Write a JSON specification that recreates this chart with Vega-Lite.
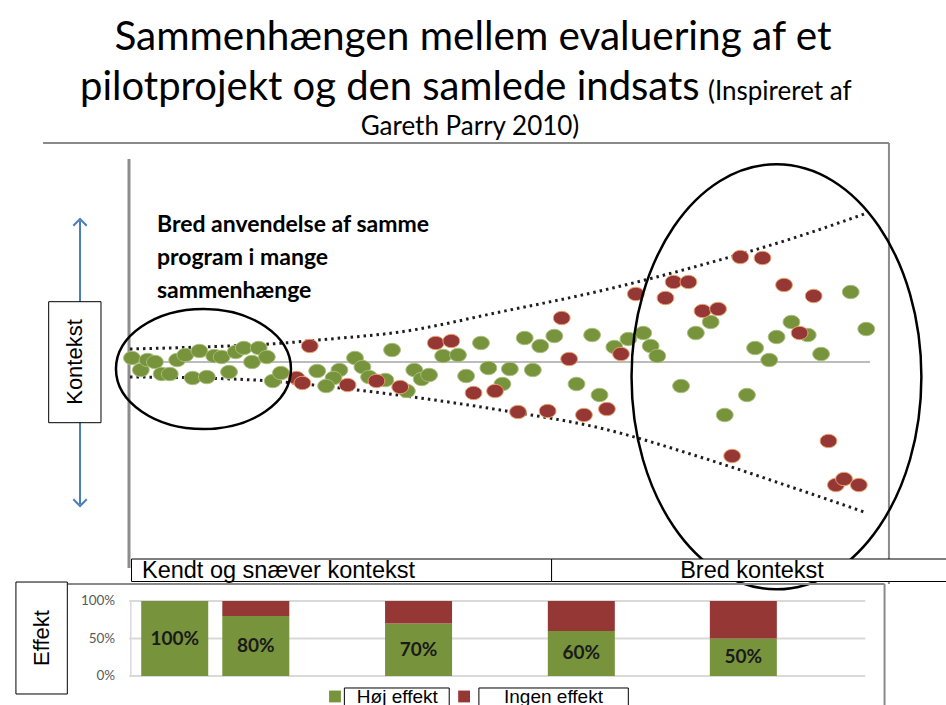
{
  "$schema": "https://vega.github.io/schema/vega-lite/v6.json",
  "padding": 0,
  "background": "white",
  "spacing": 0,
  "bounds": "flush",
  "config": {"view": {"stroke": null}},
  "datasets": {
    "frameTop": [
      {"x": -11.6, "y": 10.95, "x2": 102.56, "y2": 10.95},
      {"x": 102.56, "y": 10.95, "x2": 102.56, "y2": -11.1}
    ],
    "axisLine": [{"x": 0, "y": 10.15, "x2": 0, "y2": -10.3}],
    "baseLine": [{"x": 0.1, "y": 0, "x2": 100, "y2": 0}],
    "arrowLine": [{"x": -6.61, "y": 7.05, "x2": -6.61, "y2": -7.1}],
    "arrowUp": [{"x": -6.61, "y": 7.15}],
    "arrowDown": [{"x": -6.61, "y": -7.2}],
    "curves": [
      {"edge": "upper", "x": 0.13, "y": 0.65}, {"edge": "upper", "x": 9.58, "y": 0.75}, {"edge": "upper", "x": 19.03, "y": 0.9},
      {"edge": "upper", "x": 27.13, "y": 1.15}, {"edge": "upper", "x": 36.57, "y": 1.5}, {"edge": "upper", "x": 50.07, "y": 2.5},
      {"edge": "upper", "x": 63.56, "y": 3.55}, {"edge": "upper", "x": 77.06, "y": 4.83}, {"edge": "upper", "x": 90.55, "y": 6.3},
      {"edge": "upper", "x": 99.6, "y": 7.45},
      {"edge": "lower", "x": 0.13, "y": -0.75}, {"edge": "lower", "x": 9.58, "y": -0.8}, {"edge": "lower", "x": 19.03, "y": -0.95},
      {"edge": "lower", "x": 28.48, "y": -1.3}, {"edge": "lower", "x": 39.27, "y": -1.8}, {"edge": "lower", "x": 50.07, "y": -2.4},
      {"edge": "lower", "x": 63.56, "y": -3.3}, {"edge": "lower", "x": 77.06, "y": -4.75}, {"edge": "lower", "x": 90.55, "y": -6.4},
      {"edge": "lower", "x": 99.6, "y": -7.55}
    ],
    "points": [
      {"x": 0.4, "y": 0.2, "effekt": "Høj effekt"}, {"x": 1.6, "y": -0.4, "effekt": "Høj effekt"}, {"x": 2.5, "y": 0.1, "effekt": "Høj effekt"},
      {"x": 3.5, "y": 0.0, "effekt": "Høj effekt"}, {"x": 4.4, "y": -0.6, "effekt": "Høj effekt"}, {"x": 5.5, "y": -0.6, "effekt": "Høj effekt"},
      {"x": 6.5, "y": 0.1, "effekt": "Høj effekt"}, {"x": 7.6, "y": 0.35, "effekt": "Høj effekt"}, {"x": 8.6, "y": -0.8, "effekt": "Høj effekt"},
      {"x": 9.5, "y": 0.55, "effekt": "Høj effekt"}, {"x": 10.5, "y": -0.75, "effekt": "Høj effekt"}, {"x": 11.5, "y": 0.3, "effekt": "Høj effekt"},
      {"x": 12.5, "y": 0.25, "effekt": "Høj effekt"}, {"x": 13.5, "y": -0.5, "effekt": "Høj effekt"}, {"x": 14.4, "y": 0.5, "effekt": "Høj effekt"},
      {"x": 15.5, "y": 0.7, "effekt": "Høj effekt"}, {"x": 16.6, "y": 0.0, "effekt": "Høj effekt"}, {"x": 17.5, "y": 0.7, "effekt": "Høj effekt"},
      {"x": 18.6, "y": 0.25, "effekt": "Høj effekt"}, {"x": 19.4, "y": -0.95, "effekt": "Høj effekt"}, {"x": 20.5, "y": -0.55, "effekt": "Høj effekt"},
      {"x": 25.4, "y": -0.45, "effekt": "Høj effekt"}, {"x": 28.4, "y": -0.4, "effekt": "Høj effekt"}, {"x": 27.6, "y": -0.8, "effekt": "Høj effekt"},
      {"x": 26.6, "y": -1.2, "effekt": "Høj effekt"}, {"x": 30.5, "y": 0.2, "effekt": "Høj effekt"}, {"x": 31.5, "y": -0.25, "effekt": "Høj effekt"},
      {"x": 35.5, "y": 0.6, "effekt": "Høj effekt"}, {"x": 32.4, "y": -0.75, "effekt": "Høj effekt"}, {"x": 34.6, "y": -0.9, "effekt": "Høj effekt"},
      {"x": 37.5, "y": -1.45, "effekt": "Høj effekt"}, {"x": 38.5, "y": -0.4, "effekt": "Høj effekt"}, {"x": 39.5, "y": -0.85, "effekt": "Høj effekt"},
      {"x": 40.5, "y": -0.65, "effekt": "Høj effekt"}, {"x": 42.4, "y": 0.3, "effekt": "Høj effekt"}, {"x": 44.4, "y": 0.35, "effekt": "Høj effekt"},
      {"x": 47.5, "y": 0.95, "effekt": "Høj effekt"}, {"x": 45.5, "y": -0.7, "effekt": "Høj effekt"}, {"x": 50.4, "y": -1.1, "effekt": "Høj effekt"},
      {"x": 48.5, "y": -0.3, "effekt": "Høj effekt"}, {"x": 51.4, "y": -0.35, "effekt": "Høj effekt"}, {"x": 53.4, "y": 1.2, "effekt": "Høj effekt"},
      {"x": 55.5, "y": 0.8, "effekt": "Høj effekt"}, {"x": 57.4, "y": 1.3, "effekt": "Høj effekt"}, {"x": 54.5, "y": -0.4, "effekt": "Høj effekt"},
      {"x": 60.4, "y": -1.1, "effekt": "Høj effekt"}, {"x": 63.5, "y": -1.65, "effekt": "Høj effekt"}, {"x": 62.5, "y": 1.35, "effekt": "Høj effekt"},
      {"x": 65.5, "y": 0.75, "effekt": "Høj effekt"}, {"x": 67.4, "y": 1.15, "effekt": "Høj effekt"}, {"x": 69.4, "y": 1.45, "effekt": "Høj effekt"},
      {"x": 70.4, "y": 0.8, "effekt": "Høj effekt"}, {"x": 71.3, "y": 0.3, "effekt": "Høj effekt"}, {"x": 78.5, "y": 2.0, "effekt": "Høj effekt"},
      {"x": 76.5, "y": 1.45, "effekt": "Høj effekt"}, {"x": 74.5, "y": -1.2, "effekt": "Høj effekt"}, {"x": 80.4, "y": -2.65, "effekt": "Høj effekt"},
      {"x": 83.4, "y": -1.65, "effekt": "Høj effekt"}, {"x": 97.4, "y": 3.5, "effekt": "Høj effekt"}, {"x": 99.5, "y": 1.65, "effekt": "Høj effekt"},
      {"x": 84.5, "y": 0.7, "effekt": "Høj effekt"}, {"x": 86.4, "y": 0.1, "effekt": "Høj effekt"}, {"x": 87.4, "y": 1.25, "effekt": "Høj effekt"},
      {"x": 89.4, "y": 2.0, "effekt": "Høj effekt"}, {"x": 91.6, "y": 1.35, "effekt": "Høj effekt"}, {"x": 93.4, "y": 0.4, "effekt": "Høj effekt"},
      {"x": 24.4, "y": 0.8, "effekt": "Ingen effekt"}, {"x": 22.6, "y": -0.8, "effekt": "Ingen effekt"}, {"x": 23.4, "y": -1.05, "effekt": "Ingen effekt"},
      {"x": 29.5, "y": -1.15, "effekt": "Ingen effekt"}, {"x": 33.4, "y": -0.95, "effekt": "Ingen effekt"}, {"x": 36.6, "y": -1.25, "effekt": "Ingen effekt"},
      {"x": 41.4, "y": 0.95, "effekt": "Ingen effekt"}, {"x": 43.5, "y": 1.05, "effekt": "Ingen effekt"}, {"x": 46.5, "y": -1.55, "effekt": "Ingen effekt"},
      {"x": 49.4, "y": -1.45, "effekt": "Ingen effekt"}, {"x": 58.4, "y": 2.2, "effekt": "Ingen effekt"}, {"x": 59.4, "y": 0.15, "effekt": "Ingen effekt"},
      {"x": 52.5, "y": -2.5, "effekt": "Ingen effekt"}, {"x": 56.5, "y": -2.45, "effekt": "Ingen effekt"}, {"x": 61.4, "y": -2.65, "effekt": "Ingen effekt"},
      {"x": 64.5, "y": -2.35, "effekt": "Ingen effekt"}, {"x": 66.4, "y": 0.4, "effekt": "Ingen effekt"}, {"x": 68.4, "y": 3.4, "effekt": "Ingen effekt"},
      {"x": 72.4, "y": 3.2, "effekt": "Ingen effekt"}, {"x": 73.5, "y": 4.0, "effekt": "Ingen effekt"}, {"x": 75.5, "y": 4.0, "effekt": "Ingen effekt"},
      {"x": 77.4, "y": 2.55, "effekt": "Ingen effekt"}, {"x": 79.5, "y": 2.65, "effekt": "Ingen effekt"}, {"x": 81.4, "y": -4.7, "effekt": "Ingen effekt"},
      {"x": 82.5, "y": 5.25, "effekt": "Ingen effekt"}, {"x": 85.5, "y": 5.2, "effekt": "Ingen effekt"}, {"x": 88.4, "y": 3.85, "effekt": "Ingen effekt"},
      {"x": 92.4, "y": 3.3, "effekt": "Ingen effekt"}, {"x": 90.5, "y": 1.45, "effekt": "Ingen effekt"}, {"x": 94.4, "y": -3.95, "effekt": "Ingen effekt"},
      {"x": 95.4, "y": -6.15, "effekt": "Ingen effekt"}, {"x": 96.5, "y": -5.85, "effekt": "Ingen effekt"}, {"x": 98.5, "y": -6.15, "effekt": "Ingen effekt"}
    ],
    "ellipseSmall": [{"x": 10.05, "y": -0.35}],
    "ellipseLarge": [{"x": 87.38, "y": -0.74}],
    "titleBig": [
      {"x": 46.42, "y": 15.6, "text": "Sammenhængen mellem evaluering af et"}
    ],
    "titleBig2": [
      {"x": -6.61, "y": 13.1, "text": "pilotprojekt og den samlede indsats"}
    ],
    "titleSmallLeft": [{"x": 78.14, "y": 13.1, "text": "(Inspireret af"}],
    "titleSmallCenter": [{"x": 46.02, "y": 11.35, "text": "Gareth Parry 2010)"}],
    "boldText": [
      {"x": 3.78, "y": 6.5, "text": "Bred anvendelse af samme"},
      {"x": 3.78, "y": 4.85, "text": "program i mange"},
      {"x": 3.78, "y": 3.2, "text": "sammenhænge"}
    ],
    "kontekstBox": [{"x": -10.84, "x2": -3.78, "y": 3.015, "y2": -3.035}],
    "kontekstText": [{"x": -7.31, "y": 0, "text": "Kontekst"}],
    "ctxBoxes": [
      {"x": 0.34, "x2": 57.03, "y": -9.85, "y2": -10.975},
      {"x": 57.03, "x2": 111, "y": -9.85, "y2": -10.975}
    ],
    "ctxTextLeft": [{"x": 1.75, "y": -10.8, "text": "Kendt og snæver kontekst"}],
    "ctxTextRight": [{"x": 84.08, "y": -10.8, "text": "Bred kontekst"}],
    "frameBottom": [
      {"x": -8.91, "y": 122.67, "x2": 102.56, "y2": 122.67},
      {"x": 102.56, "y": 122.67, "x2": 102.56, "y2": -38.67}
    ],
    "grid": [
      {"x": -0.47, "x2": 99.93, "y": 0, "label": "0%"},
      {"x": -0.47, "x2": 99.93, "y": 50, "label": "50%"},
      {"x": -0.47, "x2": 99.93, "y": 100, "label": "100%"}
    ],
    "barAxis": [{"x": -0.25, "y": 0, "y2": 100}],
    "bars": [
      {"x": 5.74, "effekt": "Høj effekt", "lo": 0, "hi": 100}, {"x": 5.74, "effekt": "Ingen effekt", "lo": 100, "hi": 100},
      {"x": 16.8, "effekt": "Høj effekt", "lo": 0, "hi": 80}, {"x": 16.8, "effekt": "Ingen effekt", "lo": 80, "hi": 100},
      {"x": 39.0, "effekt": "Høj effekt", "lo": 0, "hi": 70}, {"x": 39.0, "effekt": "Ingen effekt", "lo": 70, "hi": 100},
      {"x": 61.2, "effekt": "Høj effekt", "lo": 0, "hi": 60}, {"x": 61.2, "effekt": "Ingen effekt", "lo": 60, "hi": 100},
      {"x": 83.3, "effekt": "Høj effekt", "lo": 0, "hi": 50}, {"x": 83.3, "effekt": "Ingen effekt", "lo": 50, "hi": 100}
    ],
    "effektBox": [{"x": -15.92, "x2": -8.91, "y": 125.3, "y2": -24}],
    "effektText": [{"x": -12.41, "y": 50.67, "text": "Effekt"}],
    "legendSquares": [
      {"x": 27.6, "y": -27.3, "effekt": "Høj effekt"},
      {"x": 45.21, "y": -27.3, "effekt": "Ingen effekt"}
    ],
    "legendBoxes": [
      {"x": 28.88, "x2": 43.18, "y": -16, "y2": -45},
      {"x": 47.23, "x2": 67.61, "y": -16, "y2": -45}
    ],
    "legendText": [
      {"x": 36.1, "y": -35.5, "text": "Høj effekt"},
      {"x": 57.4, "y": -35.5, "text": "Ingen effekt"}
    ]
  },
  "vconcat": [
    {
      "width": 946,
      "height": 584,
      "encoding": {
        "x": {"field": "x", "type": "quantitative", "scale": {"domain": [-17.41, 110.26], "nice": false, "zero": false}, "axis": null},
        "y": {"field": "y", "type": "quantitative", "scale": {"domain": [-11.1, 18.1], "nice": false, "zero": false}, "axis": null}
      },
      "layer": [
        {"data": {"name": "frameTop"}, "mark": {"type": "rule", "color": "#8a8a8a", "strokeWidth": 2}, "encoding": {"x2": {"field": "x2"}, "y2": {"field": "y2"}}},
        {"data": {"name": "axisLine"}, "mark": {"type": "rule", "color": "#8c8c8c", "strokeWidth": 3}, "encoding": {"x2": {"field": "x2"}, "y2": {"field": "y2"}}},
        {"data": {"name": "baseLine"}, "mark": {"type": "rule", "color": "#a6a6a6", "strokeWidth": 1.5}, "encoding": {"x2": {"field": "x2"}, "y2": {"field": "y2"}}},
        {"data": {"name": "arrowLine"}, "mark": {"type": "rule", "color": "#4a7ebb", "strokeWidth": 2}, "encoding": {"x2": {"field": "x2"}, "y2": {"field": "y2"}}},
        {"data": {"name": "arrowUp"}, "mark": {"type": "point", "shape": "M -0.6 0.6 L 0 0 L 0.6 0.6", "size": 500, "filled": false, "stroke": "#4a7ebb", "strokeWidth": 2, "opacity": 1}},
        {"data": {"name": "arrowDown"}, "mark": {"type": "point", "shape": "M -0.6 -0.6 L 0 0 L 0.6 -0.6", "size": 500, "filled": false, "stroke": "#4a7ebb", "strokeWidth": 2, "opacity": 1}},
        {"data": {"name": "kontekstBox"}, "mark": {"type": "rect", "fill": "white", "stroke": "black", "strokeWidth": 1}, "encoding": {"x2": {"field": "x2"}, "y2": {"field": "y2"}}},
        {"data": {"name": "kontekstText"}, "mark": {"type": "text", "font": "Liberation Sans", "fontSize": 22, "angle": 270, "align": "center", "baseline": "middle", "color": "black"}, "encoding": {"text": {"field": "text"}}},
        {"data": {"name": "curves"}, "mark": {"type": "line", "color": "#1e1e1e", "strokeWidth": 3, "strokeDash": [2.5, 4], "interpolate": "monotone"}, "encoding": {"detail": {"field": "edge"}}},
        {"data": {"name": "points"}, "mark": {"type": "point", "shape": "M1,0 C1,0.442 0.552,0.8 0,0.8 C-0.552,0.8 -1,0.442 -1,0 C-1,-0.442 -0.552,-0.8 0,-0.8 C0.552,-0.8 1,-0.442 1,0 Z", "size": 280, "filled": true, "strokeWidth": 1, "opacity": 1},
          "encoding": {
            "fill": {"field": "effekt", "type": "nominal", "scale": {"domain": ["Høj effekt", "Ingen effekt"], "range": ["#77933C", "#953735"]}, "legend": null},
            "stroke": {"field": "effekt", "type": "nominal", "scale": {"domain": ["Høj effekt", "Ingen effekt"], "range": ["#a9bf7e", "#eea46c"]}, "legend": null}
          }},
        {"data": {"name": "ellipseSmall"}, "mark": {"type": "point", "shape": "M1,0 C1,0.379 0.552,0.686 0,0.686 C-0.552,0.686 -1,0.379 -1,0 C-1,-0.379 -0.552,-0.686 0,-0.686 C0.552,-0.686 1,-0.379 1,0 Z", "size": 30625, "filled": false, "stroke": "black", "strokeWidth": 2.5, "opacity": 1}},
        {"data": {"name": "ellipseLarge"}, "mark": {"type": "point", "shape": "M0.682,0 C0.682,0.552 0.377,1 0,1 C-0.377,1 -0.682,0.552 -0.682,0 C-0.682,-0.552 -0.377,-1 0,-1 C0.377,-1 0.682,-0.552 0.682,0 Z", "size": 180625, "filled": false, "stroke": "black", "strokeWidth": 2.5, "opacity": 1}},
        {"data": {"name": "titleBig"}, "mark": {"type": "text", "font": "Lato", "fontSize": 40.5, "align": "center", "baseline": "alphabetic", "color": "black"}, "encoding": {"text": {"field": "text"}}},
        {"data": {"name": "titleBig2"}, "mark": {"type": "text", "font": "Lato", "fontSize": 40, "align": "left", "baseline": "alphabetic", "color": "black"}, "encoding": {"text": {"field": "text"}}},
        {"data": {"name": "titleSmallLeft"}, "mark": {"type": "text", "font": "Lato", "fontSize": 26, "align": "left", "baseline": "alphabetic", "color": "black"}, "encoding": {"text": {"field": "text"}}},
        {"data": {"name": "titleSmallCenter"}, "mark": {"type": "text", "font": "Lato", "fontSize": 26, "align": "center", "baseline": "alphabetic", "color": "black"}, "encoding": {"text": {"field": "text"}}},
        {"data": {"name": "boldText"}, "mark": {"type": "text", "font": "Lato", "fontSize": 23, "fontWeight": "bold", "align": "left", "baseline": "alphabetic", "color": "black"}, "encoding": {"text": {"field": "text"}}},
        {"data": {"name": "ctxBoxes"}, "mark": {"type": "rect", "fill": "white", "stroke": "black", "strokeWidth": 1}, "encoding": {"x2": {"field": "x2"}, "y2": {"field": "y2"}}},
        {"data": {"name": "ctxTextLeft"}, "mark": {"type": "text", "font": "Liberation Sans", "fontSize": 23.5, "align": "left", "baseline": "alphabetic", "color": "black"}, "encoding": {"text": {"field": "text"}}},
        {"data": {"name": "ctxTextRight"}, "mark": {"type": "text", "font": "Liberation Sans", "fontSize": 23.5, "align": "center", "baseline": "alphabetic", "color": "black"}, "encoding": {"text": {"field": "text"}}}
      ]
    },
    {
      "width": 946,
      "height": 121,
      "encoding": {
        "x": {"field": "x", "type": "quantitative", "scale": {"domain": [-17.41, 110.26], "nice": false, "zero": false}, "axis": null},
        "y": {"field": "y", "type": "quantitative", "scale": {"domain": [-38.67, 122.67], "nice": false, "zero": false}, "axis": null}
      },
      "layer": [
        {"data": {"name": "frameBottom"}, "mark": {"type": "rule", "color": "#8a8a8a", "strokeWidth": 2}, "encoding": {"x2": {"field": "x2"}, "y2": {"field": "y2"}}},
        {"data": {"name": "grid"}, "mark": {"type": "rule", "color": "#d9d9d9", "strokeWidth": 2}, "encoding": {"x2": {"field": "x2"}}},
        {"data": {"name": "barAxis"}, "mark": {"type": "rule", "color": "#d9d9d9", "strokeWidth": 1.5}, "encoding": {"y2": {"field": "y2"}}},
        {"data": {"name": "grid"}, "mark": {"type": "text", "font": "Lato", "fontSize": 13.5, "align": "right", "baseline": "middle", "color": "#595959", "dx": -14}, "encoding": {"text": {"field": "label"}}},
        {"data": {"name": "bars"}, "mark": {"type": "bar", "width": 67},
          "encoding": {
            "y": {"field": "lo", "type": "quantitative", "scale": {"domain": [-38.67, 122.67], "nice": false, "zero": false}, "axis": null},
            "y2": {"field": "hi"},
            "color": {"field": "effekt", "type": "nominal", "scale": {"domain": ["Høj effekt", "Ingen effekt"], "range": ["#77933C", "#953735"]}, "legend": null}
          }},
        {"data": {"name": "bars"},
          "transform": [
            {"filter": "datum.effekt === 'Høj effekt'"},
            {"calculate": "(datum.lo + datum.hi) / 2", "as": "mid"},
            {"calculate": "datum.hi + '%'", "as": "label"}
          ],
          "mark": {"type": "text", "font": "Lato", "fontSize": 19, "fontWeight": "bold", "align": "center", "baseline": "middle", "color": "#1a1a1a"},
          "encoding": {
            "y": {"field": "mid", "type": "quantitative", "scale": {"domain": [-38.67, 122.67], "nice": false, "zero": false}, "axis": null},
            "text": {"field": "label"}
          }},
        {"data": {"name": "effektBox"}, "mark": {"type": "rect", "fill": "white", "stroke": "black", "strokeWidth": 1}, "encoding": {"x2": {"field": "x2"}, "y2": {"field": "y2"}}},
        {"data": {"name": "effektText"}, "mark": {"type": "text", "font": "Liberation Sans", "fontSize": 22, "angle": 270, "align": "center", "baseline": "middle", "color": "black"}, "encoding": {"text": {"field": "text"}}},
        {"data": {"name": "legendBoxes"}, "mark": {"type": "rect", "fill": "white", "stroke": "black", "strokeWidth": 1}, "encoding": {"x2": {"field": "x2"}, "y2": {"field": "y2"}}},
        {"data": {"name": "legendSquares"}, "mark": {"type": "point", "shape": "square", "size": 140, "filled": true, "opacity": 1},
          "encoding": {"color": {"field": "effekt", "type": "nominal", "scale": {"domain": ["Høj effekt", "Ingen effekt"], "range": ["#77933C", "#953735"]}, "legend": null}}},
        {"data": {"name": "legendText"}, "mark": {"type": "text", "font": "Liberation Sans", "fontSize": 19, "align": "center", "baseline": "alphabetic", "color": "black"}, "encoding": {"text": {"field": "text"}}}
      ]
    }
  ]
}
